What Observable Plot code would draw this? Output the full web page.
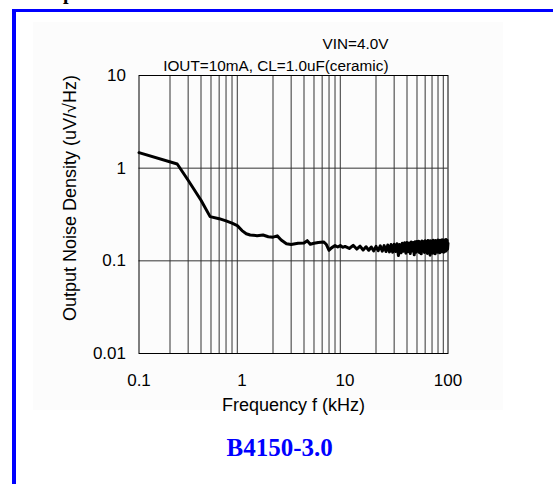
<!DOCTYPE html>
<html><head><meta charset="utf-8">
<script src="https://cdn.jsdelivr.net/npm/d3@7"></script>
<script src="https://cdn.jsdelivr.net/npm/@observablehq/plot@0.6"></script>
<style>
html,body{margin:0;padding:0;background:#fff}
body{width:553px;height:484px;overflow:hidden;position:relative;font-family:"Liberation Sans",Arial,sans-serif}
#panel{position:absolute;left:33px;top:22px;width:470px;height:388px;background:#fcfcfc}
#frame{position:absolute;left:12px;top:9px;width:560px;height:500px;border-left:4px solid #0000ff;border-top:3px solid #0000ff}
#cut{position:absolute;left:63px;top:-19px;font:bold 20px "Liberation Serif",serif;line-height:normal;color:#000}
#chart{position:absolute;left:0;top:0}
#ylab{position:absolute;left:70px;top:198px;width:0;height:0}
#ylab span{position:absolute;left:0;top:0;transform:translate(-50%,-50%) rotate(-90deg);white-space:nowrap;font:18px "Liberation Sans",Arial,sans-serif;line-height:1;color:#000}
</style>
</head><body>
<div id="panel"></div>
<div id="frame"></div>
<div id="cut">p</div>
<div id="chart"></div>
<div id="ylab"><span></span></div>
<script>
// ---- data ----
const freqLow = [0.1, 0.235, 0.3, 0.4, 0.49, 0.6, 0.7, 0.8, 0.9, 1.0, 1.1, 1.2, 1.4, 1.6, 1.8, 2.0, 2.2, 2.4, 2.7, 3.0, 3.5, 4.0, 4.3, 4.6, 5.0, 5.5, 6.2, 6.6, 7.0, 7.4, 8.0, 8.5, 9.0, 9.5];
const noiseLow = [1.47, 1.11, 0.74, 0.45, 0.30, 0.285, 0.27, 0.255, 0.24, 0.212, 0.196, 0.19, 0.187, 0.19, 0.182, 0.18, 0.186, 0.168, 0.153, 0.15, 0.155, 0.156, 0.165, 0.151, 0.155, 0.158, 0.16, 0.15, 0.13, 0.138, 0.146, 0.141, 0.146, 0.14];
const freqHigh = [10, 11, 12, 13, 14, 15, 16, 17, 18, 19, 20, 21, 22, 23, 24, 25, 26, 27, 28, 29, 30, 31, 32, 33, 34, 35, 36, 37, 38, 39, 40, 41, 42, 43, 44, 45, 46, 47, 48, 49, 50, 51, 52, 53, 54, 55, 56, 57, 58, 59, 60, 61, 62, 63, 64, 65, 66, 67, 68, 69, 70, 71, 72, 73, 74, 75, 76, 77, 78, 79, 80, 81, 82, 83, 84, 85, 86, 87, 88, 89, 90, 91, 92, 93, 94, 95, 96, 97, 98, 99, 100];
const noiseHigh = [0.143, 0.136, 0.147, 0.134, 0.144, 0.131, 0.142, 0.130, 0.141, 0.128, 0.143, 0.129, 0.145, 0.127, 0.146, 0.126, 0.148, 0.125, 0.150, 0.124, 0.151, 0.126, 0.153, 0.114, 0.150, 0.122, 0.155, 0.127, 0.157, 0.121, 0.158, 0.126, 0.156, 0.120, 0.160, 0.128, 0.158, 0.116, 0.161, 0.124, 0.162, 0.127, 0.163, 0.122, 0.160, 0.119, 0.164, 0.128, 0.161, 0.123, 0.165, 0.125, 0.162, 0.120, 0.166, 0.129, 0.163, 0.115, 0.165, 0.127, 0.162, 0.121, 0.167, 0.126, 0.164, 0.119, 0.166, 0.130, 0.163, 0.124, 0.168, 0.128, 0.165, 0.122, 0.167, 0.131, 0.164, 0.125, 0.169, 0.129, 0.166, 0.124, 0.168, 0.132, 0.165, 0.127, 0.170, 0.130, 0.167, 0.134, 0.155];
const xTicks = [0.1, 1, 10, 100];
const xTickLabels = ["0.1", "1", "10", "100"];
const yTicks = [0.01, 0.1, 1, 10];
const yTickLabels = ["0.01", "0.1", "1", "10"];
const xGrid = [0.2, 0.3, 0.4, 0.5, 0.6, 0.7, 0.8, 0.9, 2, 3, 4, 5, 6, 7, 8, 9, 20, 30, 40, 50, 60, 70, 80, 90];
const yGrid = [0.1, 1];
const titleLines = ["VIN=4.0V", "IOUT=10mA, CL=1.0uF(ceramic)"];
const xLabel = "Frequency f (kHz)";
const yLabel = "Output Noise Density (uV/\u221AHz)";
const caption = "B4150-3.0";

const curve = [
  ...freqLow.map((f, i) => ({f, v: noiseLow[i]})),
  ...freqHigh.map((f, i) => ({f, v: noiseHigh[i]}))
];

const font = "Liberation Sans, Arial, sans-serif";
const chart = Plot.plot({
  width: 553, height: 484,
  marginLeft: 138.5, marginRight: 105.5, marginTop: 75, marginBottom: 131,
  style: {background: "transparent", fontFamily: font, fontSize: "17px", color: "#000", overflow: "visible"},
  x: {type: "log", domain: [0.1, 100]},
  y: {type: "log", domain: [0.01, 10]},
  marks: [
    Plot.ruleX(xGrid, {stroke: "#333", strokeWidth: 1, strokeOpacity: 1}),
    Plot.ruleY(yGrid, {stroke: "#333", strokeWidth: 1, strokeOpacity: 1}),
    Plot.frame({stroke: "#000", strokeWidth: 1}),
    Plot.axisX(xTicks, {tickSize: 0, tickPadding: 20, tickFormat: (d) => xTickLabels[xTicks.indexOf(d)], label: null, fontSize: 17}),
    Plot.axisY(yTicks, {tickSize: 0, tickPadding: 13, tickFormat: (d) => yTickLabels[yTicks.indexOf(d)], label: null, fontSize: 17}),
    Plot.line(curve, {x: "f", y: "v", stroke: "#000", strokeWidth: 3, strokeLinejoin: "round"}),
    Plot.text([titleLines[0]], {frameAnchor: "top-right", dx: -59.5, dy: -26.7, textAnchor: "end", lineAnchor: "bottom", fontSize: 15.3, fontFamily: font}),
    Plot.text([titleLines[1]], {frameAnchor: "top-right", dx: -59.5, dy: -4.3, textAnchor: "end", lineAnchor: "bottom", fontSize: 15.3, fontFamily: font}),
    Plot.text([xLabel], {frameAnchor: "bottom", dy: 57, lineAnchor: "bottom", fontSize: 18, fontFamily: font}),
    Plot.text([caption], {frameAnchor: "bottom", dx: -13.8, dy: 102, lineAnchor: "bottom", fontSize: 25, fontWeight: "bold", fontFamily: "Liberation Serif, Times New Roman, serif", fill: "#0000ff"})
  ]
});
document.getElementById("chart").appendChild(chart);
document.querySelector("#ylab span").textContent = yLabel;
</script>
</body></html>
